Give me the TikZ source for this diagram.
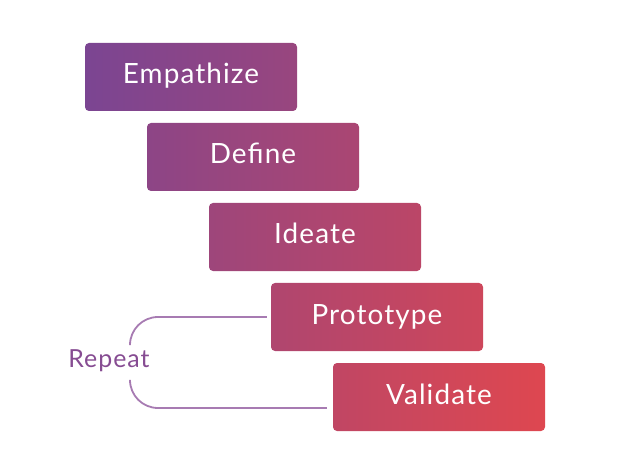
\documentclass[tikz,border=0pt]{standalone}
\usepackage{fontspec}
\setmainfont{Lato}[LetterSpace=4]
\usetikzlibrary{calc}
\definecolor{ca}{HTML}{7B4592}
\definecolor{cb}{HTML}{DE4750}
\definecolor{brk}{HTML}{A77BB2}
\definecolor{rep}{HTML}{864C92}
\begin{document}
\begin{tikzpicture}[x=1bp,y=-1bp,
  stage/.style={minimum width=212bp, minimum height=68bp, inner sep=0pt,
    text=white, font=\fontsize{28}{32}\selectfont, text height=19bp, text depth=5bp,
    rounded corners=4bp, draw=none},
  bracket/.style={draw=brk, line width=1.8bp, rounded corners=28bp},
  replabel/.style={text=rep, font=\fontsize{25}{30}\selectfont, inner sep=0pt, anchor=base}]
\useasboundingbox (0,0) rectangle (632,474);
\node[stage, left color=cb!0!ca, right color=cb!30!ca] (e) at (191,77) {Empathize};
\node[stage, left color=cb!18!ca, right color=cb!48!ca] (d) at (253,157) {Define};
\node[stage, left color=cb!35!ca, right color=cb!65!ca] (i) at (315,237) {Ideate};
\node[stage, left color=cb!53!ca, right color=cb!83!ca] (p) at (377,317) {Prototype};
\node[stage, left color=cb!70!ca, right color=cb!100!ca] (v) at (439,397) {Validate};
\node[replabel] (r) at (109,367) {Repeat};
\coordinate (rt) at (130,343);
\coordinate (rb) at (130,382);
\draw[bracket] ([xshift=-4bp]p.west) -| (rt);
\draw[bracket] ([xshift=-6bp,yshift=-11bp]v.west) -| (rb);
\end{tikzpicture}
\end{document}
